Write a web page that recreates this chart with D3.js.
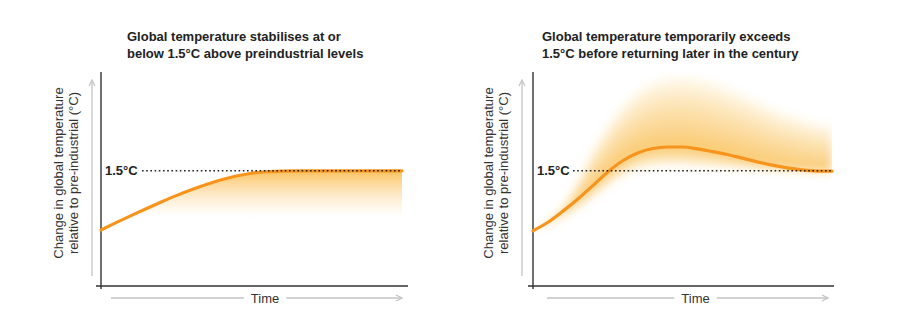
<!DOCTYPE html>
<html><head><meta charset="utf-8">
<script src="https://cdn.jsdelivr.net/npm/d3@7"></script>
<style>body{margin:0;background:#fff}svg{display:block;font-family:Arial,"Liberation Sans",Helvetica,sans-serif}</style>
</head><body><svg id="c" width="915" height="327"></svg>
<script>
// ---- data ----
const time = [0,5,10,15,20,25,30,35,40,45,50,55,60,65,70,75,80,85,90,95,100];
const stabiliseTemp = [0.73,0.825,0.917,1.007,1.094,1.177,1.254,1.323,1.383,1.432,1.468,1.488,1.497,1.5,1.5,1.5,1.5,1.5,1.5,1.5,1.5];
const overshootTemp = [0.72,0.83,0.975,1.134,1.307,1.485,1.631,1.732,1.79,1.81,1.81,1.786,1.75,1.713,1.665,1.617,1.574,1.538,1.512,1.497,1.495];
const overshootUpper = [0.72,0.84,1.02,1.36,1.76,2.08,2.34,2.52,2.63,2.69,2.70,2.68,2.63,2.56,2.48,2.39,2.30,2.22,2.16,2.10,2.07];
const overshootLower = [0.72,0.79,0.89,1.01,1.15,1.30,1.43,1.52,1.56,1.57,1.57,1.56,1.55,1.54,1.53,1.52,1.51,1.505,1.50,1.49,1.49];
const stabiliseFadeTo = 0.9;   // level where the shading under the left curve fades out
const threshold = 1.5;
const thresholdLabel = "1.5°C";
const titleLeft = ["Global temperature stabilises at or","below 1.5°C above preindustrial levels"];
const titleRight = ["Global temperature temporarily exceeds","1.5°C before returning later in the century"];
const yLabelLines = ["Change in global temperature","relative to pre-industrial (°C)"];
const xLabel = "Time";

// ---- drawing ----
const svg = d3.select("#c");
const defs = svg.append("defs");
const orange = "#f7941d";
const grey = "#c4c4c4";
const ink = "#222";

const y = d3.scaleLinear().domain([0, 2.8]).range([286, 71]);

defs.append("marker").attr("id","arr").attr("viewBox","0 0 8 8").attr("refX",7).attr("refY",4)
  .attr("markerWidth",8).attr("markerHeight",8).attr("markerUnits","userSpaceOnUse").attr("orient","auto")
  .append("path").attr("d","M1,1 L7,4 L1,7").attr("fill","none").attr("stroke",grey).attr("stroke-width",1.2);

defs.append("filter").attr("id","blur").attr("x","-20%").attr("y","-20%").attr("width","140%").attr("height","140%")
  .append("feGaussianBlur").attr("stdDeviation",4.5);

const grad = defs.append("linearGradient").attr("id","fadeGrad").attr("gradientUnits","userSpaceOnUse")
  .attr("x1",0).attr("x2",0).attr("y1",y(threshold)).attr("y2",y(stabiliseFadeTo-0.05));
grad.append("stop").attr("offset",0).attr("stop-color","#fbbf55").attr("stop-opacity",0.95);
grad.append("stop").attr("offset",0.4).attr("stop-color","#fcd28a").attr("stop-opacity",0.6);
grad.append("stop").attr("offset",0.75).attr("stop-color","#fde2b4").attr("stop-opacity",0.25);
grad.append("stop").attr("offset",1).attr("stop-color","#fff").attr("stop-opacity",0);

const panels = [
  {id:"L", x0:101, x1:402, axisEnd:408, arrowX:92, titleX:127, labX:[62.5,77.5], labTextX:105, dotStart:142,
   timeStart:111, timeEnd:402, timeC:265, title:titleLeft, temp:stabiliseTemp},
  {id:"R", x0:533, x1:832, axisEnd:834, arrowX:522, titleX:542, labX:[493,508], labTextX:537, dotStart:573,
   timeStart:547, timeEnd:828, timeC:695.5, title:titleRight, temp:overshootTemp, upper:overshootUpper, lower:overshootLower}
];

panels.forEach(p => {
  const x = d3.scaleLinear().domain([0,100]).range([p.x0, p.x1]);
  const g = svg.append("g");

  // title
  const t = g.append("text").attr("x",p.titleX).attr("y",41).attr("font-size",13).attr("font-weight","bold").attr("fill",ink);
  p.title.forEach((s,i)=> t.append("tspan").attr("x",p.titleX).attr("dy", i? 16.5:0).text(s));

  // y label
  yLabelLines.forEach((s,i)=>{
    g.append("text").attr("transform",`translate(${p.labX[i]},173) rotate(-90)`).attr("text-anchor","middle")
      .attr("font-size",13).attr("fill","#333").text(s);
  });

  // grey vertical arrow
  g.append("line").attr("x1",p.arrowX).attr("x2",p.arrowX).attr("y1",276).attr("y2",80)
    .attr("stroke",grey).attr("stroke-width",1.3).attr("marker-end","url(#arr)");

  // shading
  if (p.upper) {
    defs.append("clipPath").attr("id","clip"+p.id).append("rect")
      .attr("x",p.x0+1).attr("y",0).attr("width",p.x1-p.x0-1).attr("height",286);
    const bg = g.append("g").attr("clip-path",`url(#clip${p.id})`).append("g").attr("filter","url(#blur)");
    const N = 7;
    for (let k=N; k>=1; k--) {
      const f = Math.pow(k/N, 1.3);
      const area = d3.area().curve(d3.curveMonotoneX)
        .x((d,i)=>x(time[i]))
        .y0((d,i)=>y(p.temp[i] - (p.temp[i]-p.lower[i])*f))
        .y1((d,i)=>y(p.temp[i] + (p.upper[i]-p.temp[i])*f));
      bg.append("path").datum(time).attr("d",area).attr("fill","#f9b337").attr("fill-opacity",0.15);
    }
  } else {
    const area = d3.area().curve(d3.curveMonotoneX)
      .x((d,i)=>x(time[i])).y0(y(stabiliseFadeTo-0.1)).y1((d,i)=>y(p.temp[i]));
    g.append("path").datum(time).attr("d",area).attr("fill","url(#fadeGrad)");
  }

  // axes
  g.append("line").attr("x1",p.x0).attr("x2",p.x0).attr("y1",72).attr("y2",289).attr("stroke","#333").attr("stroke-width",1.4);
  g.append("line").attr("x1",p.x0-5).attr("x2",p.axisEnd).attr("y1",286).attr("y2",286).attr("stroke","#333").attr("stroke-width",1.4);

  // orange curve
  const line = d3.line().curve(d3.curveMonotoneX).x((d,i)=>x(time[i])).y((d,i)=>y(p.temp[i]));
  g.append("path").datum(time).attr("d",line).attr("fill","none").attr("stroke",orange)
    .attr("stroke-width",3.2).attr("stroke-linecap","round");

  // threshold
  g.append("line").attr("x1",p.dotStart).attr("x2",p.x1).attr("y1",y(threshold)).attr("y2",y(threshold))
    .attr("stroke",ink).attr("stroke-width",1.6).attr("stroke-dasharray","1.6,2.6");
  g.append("text").attr("x",p.labTextX).attr("y",y(threshold)+4.6).attr("font-size",13).attr("font-weight","bold")
    .attr("fill",ink).text(thresholdLabel);

  // time arrow
  const tt = g.append("text").attr("x",p.timeC).attr("y",302.5).attr("text-anchor","middle").attr("font-size",13)
    .attr("fill","#333").text(xLabel);
  const w = tt.node().getComputedTextLength();
  g.append("line").attr("x1",p.timeStart).attr("x2",p.timeC-w/2-7).attr("y1",298).attr("y2",298).attr("stroke",grey).attr("stroke-width",1.3);
  g.append("line").attr("x1",p.timeC+w/2+7).attr("x2",p.timeEnd).attr("y1",298).attr("y2",298).attr("stroke",grey)
    .attr("stroke-width",1.3).attr("marker-end","url(#arr)");
});
</script></body></html>
